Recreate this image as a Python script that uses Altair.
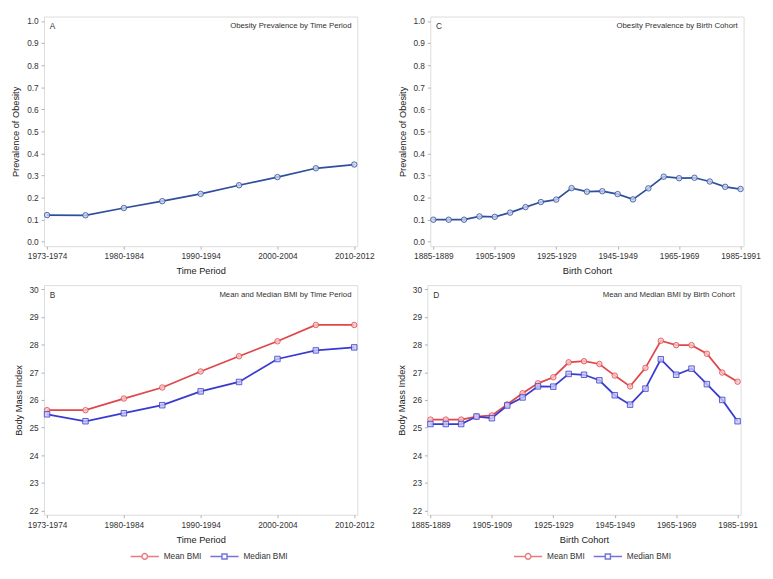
import altair as alt
import pandas as pd

# ---------------- data ----------------
periods = ["1973-1974", "1975-1979", "1980-1984", "1985-1989", "1990-1994",
           "1995-1999", "2000-2004", "2005-2009", "2010-2012"]
prev_period = [0.121, 0.120, 0.153, 0.184, 0.217, 0.256, 0.293, 0.333, 0.350]
mean_period = [25.63, 25.63, 26.05, 26.45, 27.03, 27.58, 28.12, 28.71, 28.71]
median_period = [25.48, 25.23, 25.52, 25.81, 26.31, 26.65, 27.48, 27.79, 27.90]

cohorts = ["1885-1889", "1890-1894", "1895-1899", "1900-1904", "1905-1909",
           "1910-1914", "1915-1919", "1920-1924", "1925-1929", "1930-1934",
           "1935-1939", "1940-1944", "1945-1949", "1950-1954", "1955-1959",
           "1960-1964", "1965-1969", "1970-1974", "1975-1979", "1980-1984",
           "1985-1991"]
prev_cohort = [0.100, 0.100, 0.100, 0.115, 0.113, 0.132, 0.157, 0.180, 0.191,
               0.243, 0.227, 0.229, 0.216, 0.192, 0.242, 0.295, 0.288, 0.290,
               0.273, 0.249, 0.239]
mean_cohort = [25.29, 25.29, 25.29, 25.40, 25.44, 25.84, 26.24, 26.60, 26.82,
               27.36, 27.40, 27.30, 26.88, 26.49, 27.16, 28.14, 27.98, 27.98,
               27.67, 26.99, 26.66]
median_cohort = [25.13, 25.13, 25.13, 25.40, 25.34, 25.80, 26.09, 26.49, 26.48,
                 26.94, 26.91, 26.71, 26.17, 25.83, 26.41, 27.47, 26.91, 27.13,
                 26.57, 26.00, 25.23]

series_names = ["Mean BMI", "Median BMI"]
prev_ticks = [0.0, 0.1, 0.2, 0.3, 0.4, 0.5, 0.6, 0.7, 0.8, 0.9, 1.0]
bmi_ticks = [22, 23, 24, 25, 26, 27, 28, 29, 30]

# ---------------- style ----------------
W, H = 322, 236
FONT = "Liberation Sans"
TXT = "#333333"
LINE_BLUE = "#2f4f9c"
LINE_BLUE_FILL = "#c9d3ec"
RED = "#e0464a"
RED_FILL = "#f6c9ca"
BLUE = "#3a3ad0"
BLUE_FILL = "#c9c9f3"

# legend glyphs: a short line with a marker in its middle
circle_line = "M-1,0L-0.2,0M0.2,0L1,0M-0.2,0A0.2,0.2 0 1 0 0.2,0A0.2,0.2 0 1 0 -0.2,0Z"
square_line = "M-1,0L-0.18,0M0.18,0L1,0M-0.18,-0.18L0.18,-0.18L0.18,0.18L-0.18,0.18Z"


def x_enc(field, cats, title, pad, step):
    return alt.X(
        f"{field}:N", sort=cats,
        scale=alt.Scale(type="point", padding=pad),
        axis=alt.Axis(values=cats[::step], labelAngle=0, title=title,
                      labelOverlap=False, labelFlush=False, grid=False),
    )


def inset(letter, title):
    a = alt.Chart(pd.DataFrame({"t": [letter]})).mark_text(
        align="left", baseline="top", font=FONT, fontSize=8.5, color=TXT
    ).encode(x=alt.value(6), y=alt.value(6), text="t:N")
    b = alt.Chart(pd.DataFrame({"t": [title]})).mark_text(
        align="right", baseline="top", font=FONT, fontSize=8, color=TXT
    ).encode(x=alt.value(W - 6), y=alt.value(6), text="t:N")
    return a, b


def prev_panel(cats, vals, xtitle, pad, step, letter, title):
    df = pd.DataFrame({"cat": cats, "val": vals})
    y = alt.Y("val:Q", scale=alt.Scale(domain=[-0.02, 1.02], nice=False, zero=False),
              axis=alt.Axis(values=prev_ticks, format=".1f", title="Prevalence of Obesity",
                            grid=False))
    base = alt.Chart(df).encode(x=x_enc("cat", cats, xtitle, pad, step), y=y)
    line = base.mark_line(color=LINE_BLUE, strokeWidth=1.8)
    pts = base.mark_point(shape="circle", filled=True, fill=LINE_BLUE_FILL, fillOpacity=0.8,
                          stroke=LINE_BLUE, strokeWidth=1.0, size=32, strokeOpacity=0.8)
    a, b = inset(letter, title)
    return alt.layer(line, pts, a, b).properties(width=W, height=H)


def bmi_panel(cats, mean_vals, median_vals, xtitle, pad, step, letter, title):
    df = pd.DataFrame({
        "cat": cats * 2,
        "val": mean_vals + median_vals,
        "series": [series_names[0]] * len(cats) + [series_names[1]] * len(cats),
    })
    y = alt.Y("val:Q", scale=alt.Scale(domain=[21.85, 30.15], nice=False, zero=False),
              axis=alt.Axis(values=bmi_ticks, title="Body Mass Index", grid=False))
    color_scale = alt.Scale(domain=series_names, range=[RED, BLUE])
    legend = alt.Legend(
        title=None, orient="none", direction="horizontal",
        legendX=88, legendY=H + 27,
        symbolSize=841, symbolStrokeWidth=1.5,
        labelFont=FONT, labelFontSize=8.5, labelColor=TXT, labelOffset=4,
        columnPadding=6,
    )
    color = alt.Color("series:N", scale=color_scale, legend=legend)
    base = alt.Chart(df).encode(x=x_enc("cat", cats, xtitle, pad, step), y=y)
    # legend-carrying layer (no rows drawn): line+marker glyphs via custom shapes
    leg = base.transform_filter("false").mark_point(filled=False, strokeWidth=1.5).encode(
        color=color,
        shape=alt.Shape("series:N",
                        scale=alt.Scale(domain=series_names, range=[circle_line, square_line]),
                        legend=legend),
    )
    line = base.mark_line(strokeWidth=1.8).encode(color=color, detail="series:N")
    pts_mean = base.transform_filter(alt.datum.series == series_names[0]).mark_point(
        shape="circle", filled=True, fill=RED_FILL, fillOpacity=0.8, stroke=RED,
        strokeOpacity=0.8, strokeWidth=1.0, size=32
    )
    pts_median = base.transform_filter(alt.datum.series == series_names[1]).mark_point(
        shape="square", filled=True, fill=BLUE_FILL, fillOpacity=0.8, stroke=BLUE,
        strokeOpacity=0.8, strokeWidth=1.0, size=32
    )
    a, b = inset(letter, title)
    return alt.layer(leg, line, pts_mean, pts_median, a, b).properties(width=W, height=H)


pA = prev_panel(periods, prev_period, "Time Period", 0.08, 2, "A",
                "Obesity Prevalence by Time Period")
pC = prev_panel(cohorts, prev_cohort, "Birth Cohort", 0.2, 4, "C",
                "Obesity Prevalence by Birth Cohort")
pB = bmi_panel(periods, mean_period, median_period, "Time Period", 0.08, 2, "B",
               "Mean and Median BMI by Time Period")
pD = bmi_panel(cohorts, mean_cohort, median_cohort, "Birth Cohort", 0.2, 4, "D",
               "Mean and Median BMI by Birth Cohort")

top = alt.hconcat(pA, pC, spacing=22).resolve_scale(x="independent", y="independent")
bottom = alt.hconcat(pB, pD, spacing=22).resolve_scale(
    x="independent", y="independent"
).resolve_legend(color="independent", shape="independent")

chart = alt.vconcat(top, bottom, spacing=8).resolve_scale(
    x="independent", y="independent"
).configure(
    padding={"left": 2, "top": 0, "right": 4, "bottom": 0}, background="white"
).configure_view(
    stroke="#dcdcdc", strokeWidth=1
).configure_axis(
    labelFont=FONT, labelFontSize=8.5, labelColor=TXT,
    titleFont=FONT, titleFontSize=9.5, titleColor="#222222", titleFontWeight="normal",
    domain=False, grid=False, tickColor="#b0b0b0", tickSize=3,
    labelPadding=3, titlePadding=6,
)

chart.save("out.html", embed_options={"renderer": "svg", "actions": False})
